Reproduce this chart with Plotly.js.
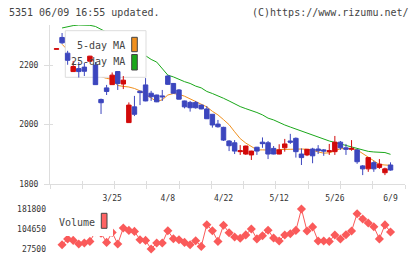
<!DOCTYPE html>
<html>
<head>
<meta charset="utf-8">
<script src="https://cdn.plot.ly/plotly-3.0.1.min.js"></script>
<style>html,body{margin:0;padding:0;background:#fff;}#chart{width:420px;height:259px;}</style>
</head>
<body>
<div id="chart"></div>
<script>
// ---- data (one entry per trading day, oldest first) ----
const dateLabels = ['3/25','4/8','4/22','5/12','5/26','6/9'];
const labelDay   = [10, 20, 30, 40, 50, 60];
const openP  = [2254,2294,2241,2179,2189,2194,2214,2201,2085,2124,2135,2179,2137,2007,2060,2113,2134,2106,2100,2097,2164,2139,2117,2080,2075,2075,2066,2053,2035,2002,1991,1945,1939,1909,1901,1898,1924,1941,1939,1920,1901,1922,1945,1954,1901,1898,1918,1918,1915,1909,1909,1941,1922,1917,1915,1861,1851,1872,1856,1838,1864];
const highP  = [2256,2309,2249,2215,2211,2209,2232,2211,2088,2134,2176,2180,2164,2075,2097,2114,2157,2114,2101,2117,2167,2140,2120,2081,2080,2080,2068,2063,2036,2016,1993,1948,1948,1931,1929,1912,1925,1957,1945,1928,1934,1952,1969,1957,1920,1918,1922,1931,1918,1935,1962,1945,1935,1948,1918,1864,1890,1878,1884,1855,1873];
const lowP   = [2254,2272,2202,2178,2159,2164,2213,2134,2036,2100,2134,2117,2120,2006,2029,2066,2079,2080,2076,2080,2134,2105,2085,2055,2044,2054,2052,2019,1990,1990,1945,1911,1901,1898,1898,1881,1898,1922,1884,1900,1900,1909,1935,1889,1864,1894,1870,1901,1895,1898,1898,1915,1898,1912,1868,1830,1841,1841,1851,1830,1845];
const closeP = [2256,2276,2217,2196,2179,2180,2231,2135,2074,2112,2167,2139,2150,2066,2035,2108,2080,2094,2077,2094,2136,2106,2086,2060,2057,2057,2053,2020,1999,1993,1948,1929,1911,1912,1928,1911,1911,1936,1901,1901,1915,1935,1941,1909,1889,1917,1895,1912,1911,1912,1941,1922,1917,1920,1875,1851,1889,1851,1867,1851,1847];
const ma5    = [null,2271,2252,2238,2225,2210,2201,2184,2162,2156,2153,2132,2129,2127,2122,2114,2102,2089,2078,2084,2100,2105,2102,2096,2087,2080,2070,2060,2045,2033,2017,2000,1976,1953,1938,1925,1915,1915,1914,1914,1916,1917,1917,1919,1918,1917,1914,1908,1904,1905,1913,1919,1919,1919,1915,1903,1891,1879,1866,1864,1863];
const ma25   = [null,2326,2331,2334,2336,2336,2335,2331,2322,2312,2302,2292,2282,2268,2258,2245,2233,2220,2211,2188,2167,2161,2152,2145,2139,2130,2124,2112,2105,2098,2089,2080,2070,2061,2054,2048,2041,2033,2022,2016,2007,1999,1992,1985,1979,1972,1965,1958,1952,1945,1940,1935,1930,1926,1920,1915,1910,1908,1907,1906,1900];
const volume = [null,44100,66100,60700,46800,50600,56800,94200,88400,53000,91500,46800,108500,99200,95400,63400,60700,27500,50600,50600,98100,67200,63400,53000,44100,59500,37500,121200,98100,56800,119300,90400,73800,69200,81900,104600,66500,78800,100000,69900,58400,81500,86500,99200,181800,96900,112800,58400,58400,56800,81500,66100,82700,96900,163700,143200,127800,113500,66500,120500,93100];
const priceTicks = [1800, 2000, 2200];
const volTicks = [27500, 104650, 181800];

// ---- layout geometry (pixels) ----
const W = 420, H = 259;
const L = 50, R = 405, MT = 25, MB = 184, VT = 209, VB = 249;
const X0 = 56.5, DX = 5.567;
const px2x = p => (p - X0) / DX;
const xmin = px2x(L), xmax = px2x(R);
const yMain = [1800, 2336];
const px2y = p => yMain[1] - (p - MT) / (MB - MT) * (yMain[1] - yMain[0]);
const fx = p => p / W, fy = p => 1 - p / H;
const days = openP.map((_, i) => i);
const divs = []; for (let k = 0; k <= 11; k++) divs.push(xmin + k * (xmax - xmin) / 11);

const MONO = 'DejaVu Sans Mono, monospace';
const GRID = '#dddddd';
const NONE = 'rgba(0,0,0,0)';

const traces = [
  {type:'scatter', mode:'lines', x:days, y:ma25, xaxis:'x', yaxis:'y', line:{color:'#1aa81a', width:1}, cliponaxis:false, hoverinfo:'skip'},
  {type:'scatter', mode:'lines', x:days, y:ma5, xaxis:'x', yaxis:'y', line:{color:'#f0901e', width:1}, hoverinfo:'skip'},
  {type:'candlestick', x:days, open:openP, high:highP, low:lowP, close:closeP, xaxis:'x5', yaxis:'y3',
   increasing:{line:{color:'#d20a0a', width:1}, fillcolor:'#d20a0a'},
   decreasing:{line:{color:'#3c46be', width:1}, fillcolor:'#3c46be'}, hoverinfo:'skip'},
  {type:'scatter', mode:'lines+markers', x:days, y:volume, xaxis:'x2', yaxis:'y2', cliponaxis:false,
   line:{color:'#fa5a5a', width:1}, marker:{symbol:'diamond', size:7, color:'#fa5a5a'}, hoverinfo:'skip'}
];

const tickFont = {family:MONO, size:8, color:'#333'};
const layout = {
  width:W, height:H, margin:{l:0,r:0,t:0,b:0}, paper_bgcolor:'#fff', plot_bgcolor:NONE, showlegend:false,
  boxgap:0.2, boxgroupgap:0,
  xaxis:{domain:[fx(L),fx(R)], range:[xmin,xmax], anchor:'y', showline:true, linecolor:GRID, linewidth:1,
    ticks:'', tickmode:'array', tickvals:labelDay, ticktext:dateLabels, tickfont:tickFont, ticklabelstandoff:6,
    minor:{tickmode:'array', tickvals:divs, ticks:'outside', ticklen:4, tickcolor:GRID, tickwidth:1, showgrid:false},
    showgrid:false, zeroline:false, rangeslider:{visible:false}},
  xaxis5:{domain:[fx(L),fx(R)], range:[xmin,xmax], anchor:'y3', showline:false, ticks:'inside', ticklen:3,
    tickcolor:GRID, tickwidth:1, tickmode:'array', tickvals:divs, showticklabels:false, showgrid:false, zeroline:false,
    rangeslider:{visible:false}},
  xaxis2:{domain:[fx(L),fx(R)], anchor:'y2', range:[xmin,xmax], visible:false, rangeslider:{visible:false}},
  yaxis:{domain:[fy(MB),fy(MT)], range:yMain, anchor:'x', showline:true, linecolor:GRID, linewidth:1,
    ticks:'outside', ticklen:5, tickcolor:GRID, tickwidth:1, tickmode:'array', tickvals:priceTicks,
    tickfont:tickFont, showgrid:false, zeroline:false, ticklabelstandoff:4},
  yaxis3:{domain:[fy(MB),fy(MT)], range:yMain, anchor:'x5', side:'left', showline:false, ticks:'inside', ticklen:3,
    tickcolor:GRID, tickwidth:1, tickmode:'array', tickvals:priceTicks, showticklabels:false, showgrid:false, zeroline:false},
  yaxis2:{domain:[fy(VB),fy(VT)], range:[volTicks[0], volTicks[2]], anchor:'x2', tickmode:'array', tickvals:volTicks,
    ticktext:volTicks.map(String), ticks:'', showline:false, showgrid:false, zeroline:false, tickfont:tickFont, ticklabelstandoff:3},
  shapes:[
    {type:'rect', xref:'x5', yref:'y3', layer:'below', x0:px2x(65.3), x1:px2x(146), y0:px2y(77.3), y1:px2y(30.7),
     fillcolor:'#ffffff', line:{color:'#dddddd', width:1}},
    {type:'rect', xref:'paper', yref:'paper', layer:'above', x0:fx(131.7), x1:fx(137.3), y0:fy(51.7), y1:fy(37.3),
     fillcolor:'#f0901e', line:{color:'#444', width:1}},
    {type:'rect', xref:'paper', yref:'paper', layer:'above', x0:fx(131.7), x1:fx(137.3), y0:fy(70), y1:fy(54.5),
     fillcolor:'#1aa81a', line:{color:'#444', width:1}},
    {type:'rect', xref:'paper', yref:'paper', layer:'above', x0:fx(55), x1:fx(113), y0:fy(236), y1:fy(211),
     fillcolor:'#ffffff', line:{width:0}},
    {type:'rect', xref:'paper', yref:'paper', layer:'above', x0:fx(101.3), x1:fx(107), y0:fy(228.3), y1:fy(213.3),
     fillcolor:'#ff6464', line:{color:'#444', width:1}}
  ],
  annotations:[
    {text:'5351 06/09 16:55 updated.', xref:'paper', yref:'paper', x:fx(7), y:fy(12.5), xanchor:'left', yanchor:'middle',
     showarrow:false, font:{family:MONO, size:10, color:'#444'}},
    {text:'(C)https://www.rizumu.net/', xref:'paper', yref:'paper', x:fx(411), y:fy(12.5), xanchor:'right', yanchor:'middle',
     showarrow:false, font:{family:MONO, size:10, color:'#444'}},
    {text:'5-day MA', xref:'paper', yref:'paper', x:fx(127), y:fy(45.5), xanchor:'right', yanchor:'middle',
     showarrow:false, font:{family:MONO, size:10, color:'#444'}},
    {text:'25-day MA', xref:'paper', yref:'paper', x:fx(127), y:fy(62), xanchor:'right', yanchor:'middle',
     showarrow:false, font:{family:MONO, size:10, color:'#444'}},
    {text:'Volume', xref:'paper', yref:'paper', x:fx(57), y:fy(222.5), xanchor:'left', yanchor:'middle',
     showarrow:false, font:{family:MONO, size:10, color:'#444'}}
  ]
};

Plotly.newPlot('chart', traces, layout, {staticPlot:true, displayModeBar:false});
</script>
</body>
</html>
